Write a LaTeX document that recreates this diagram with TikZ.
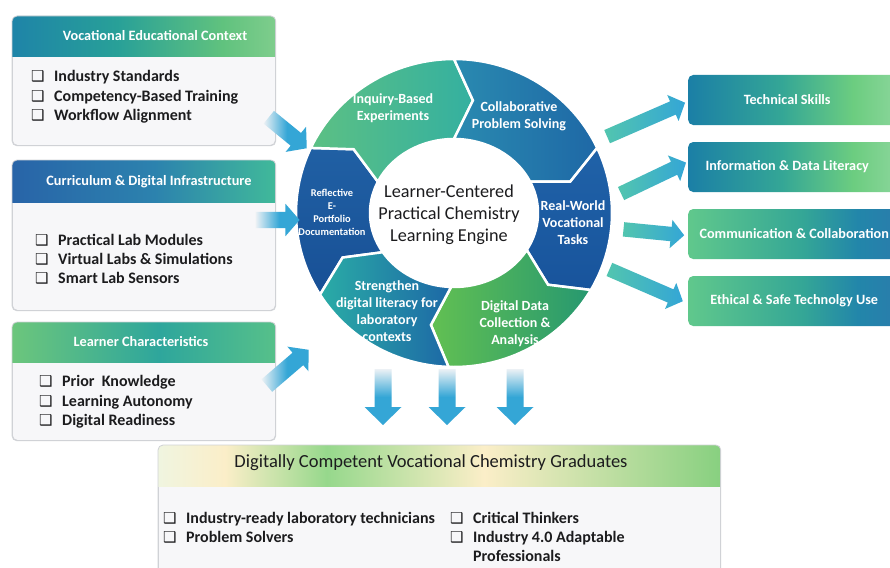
\documentclass[tikz,border=0pt]{standalone}
\usepackage{fontspec}
\setmainfont{Carlito}
\newfontfamily\symfont{DejaVu Sans}
\usetikzlibrary{shapes.arrows}

% palette
\definecolor{ink}{RGB}{28,28,30}
\definecolor{panelfill}{RGB}{247,247,249}
\definecolor{panelrule}{RGB}{208,210,214}
\definecolor{arrowblue}{RGB}{52,166,214}
\definecolor{arrowpale}{RGB}{236,241,245}
\definecolor{arrowteal}{RGB}{82,197,175}
\definecolor{deepteal}{RGB}{30,132,168}
\definecolor{midteal}{RGB}{40,160,152}
\definecolor{leafgreen}{RGB}{96,194,126}
\definecolor{palegreen}{RGB}{126,205,140}
\definecolor{royal}{RGB}{40,100,168}
\definecolor{steel}{RGB}{44,130,174}
\definecolor{seagreen}{RGB}{64,185,154}
\definecolor{mint}{RGB}{108,198,124}
\definecolor{tealmid}{RGB}{46,166,156}
\definecolor{mintright}{RGB}{86,192,138}
\definecolor{skillblue}{RGB}{27,127,166}
\definecolor{skillmid}{RGB}{52,166,150}
\definecolor{skillgreen}{RGB}{108,205,128}
\definecolor{skilllight}{RGB}{140,214,156}
\definecolor{commgreen}{RGB}{96,200,140}
\definecolor{commblue}{RGB}{34,134,170}
\definecolor{commend}{RGB}{42,124,172}
\definecolor{softcream}{RGB}{240,245,224}
\definecolor{cream}{RGB}{251,238,200}
\definecolor{lightlime}{RGB}{150,216,140}
\definecolor{lime}{RGB}{136,208,128}

% gradients
\pgfdeclarehorizontalshading{fadein}{100bp}{color(0bp)=(arrowpale); color(25bp)=(arrowpale); color(52bp)=(arrowblue); color(100bp)=(arrowblue)}
\pgfdeclareverticalshading{fadedown}{100bp}{color(0bp)=(arrowblue); color(25bp)=(arrowblue); color(50bp)=(arrowblue); color(75bp)=(arrowpale); color(100bp)=(arrowpale)}
\pgfdeclarehorizontalshading{tealtoblue}{100bp}{color(0bp)=(arrowteal); color(25bp)=(arrowteal); color(75bp)=(arrowblue); color(100bp)=(arrowblue)}
\pgfdeclarehorizontalshading{hdrcontext}{100bp}{color(0bp)=(deepteal); color(25bp)=(deepteal); color(45bp)=(midteal); color(65bp)=(leafgreen); color(75bp)=(palegreen); color(100bp)=(palegreen)}
\pgfdeclarehorizontalshading{hdrinfra}{100bp}{color(0bp)=(royal); color(25bp)=(royal); color(52bp)=(steel); color(75bp)=(seagreen); color(100bp)=(seagreen)}
\pgfdeclarehorizontalshading{hdrlearner}{100bp}{color(0bp)=(mint); color(25bp)=(mint); color(53bp)=(tealmid); color(75bp)=(mintright); color(100bp)=(mintright)}
\pgfdeclarehorizontalshading{skillup}{100bp}{color(0bp)=(skillblue); color(25bp)=(skillblue); color(47bp)=(skillmid); color(64bp)=(skillgreen); color(75bp)=(skilllight); color(100bp)=(skilllight)}
\pgfdeclarehorizontalshading{skilldown}{100bp}{color(0bp)=(commgreen); color(25bp)=(commgreen); color(52bp)=(skillmid); color(65bp)=(commblue); color(75bp)=(commend); color(100bp)=(commend)}
\pgfdeclarehorizontalshading{gradhead}{100bp}{color(0bp)=(softcream); color(25bp)=(softcream); color(31bp)=(cream); color(40bp)=(lightlime); color(54bp)=(cream); color(75bp)=(lime); color(100bp)=(lime)}

% ring geometry (outer, middle and inner radii of the cycle band)
\newcommand\Rox{158}
\newcommand\Roy{154}
\newcommand\Rmx{121}
\newcommand\Rmy{114}
\newcommand\Rix{84}
\newcommand\Riy{74}
\newcommand\tipang{9}
% one chevron piece of the cycle, running clockwise from #1 to #2
\newcommand\ringpiece[3]{%
  \path[#3] ({\Rox*cos(#1)},{\Roy*sin(#1)})
    arc[start angle=#1, end angle=#2, x radius=\Rox, y radius=\Roy]
    -- ({\Rmx*cos(#2-\tipang)},{\Rmy*sin(#2-\tipang)})
    -- ({\Rix*cos(#2)},{\Riy*sin(#2)})
    arc[start angle=#2, end angle=#1, x radius=\Rix, y radius=\Riy]
    -- ({\Rmx*cos(#1-\tipang)},{\Rmy*sin(#1-\tipang)})
    -- cycle;}
% check box glyph in front of list entries
\newcommand\cbx{\makebox[23pt][l]{\symfont\mdseries\fontsize{15}{15}\selectfont ❑}}

\begin{document}
\begin{tikzpicture}[x=1pt,y=-1pt,
  panel/.style={draw=panelrule, fill=panelfill, rounded corners=5pt, line width=0.8pt, inner sep=0pt, anchor=north west},
  hdrtext/.style={text=white, font=\bfseries\fontsize{14.3}{16}\selectfont, inner sep=0pt},
  item/.style={text=ink, font=\bfseries\fontsize{16}{18}\selectfont, anchor=west, inner sep=0pt, text height=11pt, text depth=3pt},
  seglabel/.style={text=white, font=\bfseries\fontsize{14}{17}\selectfont, align=center, inner sep=0pt},
  skillbox/.style={minimum width=212pt, minimum height=50pt, rounded corners=5pt, anchor=west, inner sep=0pt,
    text=white, font=\bfseries\fontsize{14.2}{16}\selectfont},
  flow/.style={single arrow, draw=none, inner xsep=0pt, sloped, allow upside down, midway, minimum width=0pt},
  inflow/.style={flow, shading=fadein, inner ysep=8pt, single arrow head extend=8pt, single arrow tip angle=98},
  outflow/.style={flow, shading=tealtoblue, inner ysep=7pt, single arrow head extend=7pt, single arrow tip angle=94},
  band/.style={draw=white, line width=2.5pt, line join=miter}
]
\useasboundingbox (0,0) rectangle (890,567);
\clip (0,0) rectangle (890,567);
\fill[white] (0,0) rectangle (890,567);

% ---------- input panels ----------
\node[panel, minimum width=263pt, minimum height=129pt] (ctx) at (12,16) {};
\begin{scope}
  \clip[rounded corners=5pt] (ctx.south west) rectangle (ctx.north east);
  \shade[shading=hdrcontext] (12,16) rectangle (275,57);
\end{scope}
\draw[panelrule, line width=0.8pt, rounded corners=5pt] (ctx.south west) rectangle (ctx.north east);
\node[hdrtext] (ctx-title) at (155,36) {Vocational Educational Context};
\foreach \t [count=\i] in {Industry Standards, Competency-Based Training, Workflow Alignment}
  \node[item] (ctx-\i) at (31,{58.5+19.5*\i}) {\cbx\t};

\node[panel, minimum width=263pt, minimum height=150pt] (infra) at (12,160) {};
\begin{scope}
  \clip[rounded corners=5pt] (infra.south west) rectangle (infra.north east);
  \shade[shading=hdrinfra] (12,160) rectangle (275,202);
\end{scope}
\draw[panelrule, line width=0.8pt, rounded corners=5pt] (infra.south west) rectangle (infra.north east);
\node[hdrtext] (infra-title) at (149,182) {Curriculum \& Digital Infrastructure};
\foreach \t [count=\i] in {Practical Lab Modules, Virtual Labs \& Simulations, Smart Lab Sensors}
  \node[item] (infra-\i) at (35,{222+19*\i}) {\cbx\t};

\node[panel, minimum width=263pt, minimum height=118pt] (lrn) at (12,322) {};
\begin{scope}
  \clip[rounded corners=5pt] (lrn.south west) rectangle (lrn.north east);
  \shade[shading=hdrlearner] (12,322) rectangle (275,362);
\end{scope}
\draw[panelrule, line width=0.8pt, rounded corners=5pt] (lrn.south west) rectangle (lrn.north east);
\node[hdrtext] (lrn-title) at (141,342) {Learner Characteristics};
\foreach \t [count=\i] in {Prior\ \ Knowledge, Learning Autonomy, Digital Readiness}
  \node[item] (lrn-\i) at (39,{363+19.5*\i}) {\cbx\t};

% ---------- cycle of practice ----------
\begin{scope}[shift={(454,213)}, y=1pt]
  \ringpiece{212}{155}{band, top color={rgb,255:red,32;green,96;blue,164}, bottom color={rgb,255:red,24;green,80;blue,150}}
  \ringpiece{155}{90}{band, left color={rgb,255:red,92;green,192;blue,132}, right color={rgb,255:red,52;green,176;blue,160}}
  \ringpiece{90}{25}{band, left color={rgb,255:red,42;green,138;blue,176}, right color={rgb,255:red,30;green,104;blue,166}}
  \ringpiece{25}{-30}{band, top color={rgb,255:red,32;green,98;blue,168}, bottom color={rgb,255:red,24;green,84;blue,156}}
  \ringpiece{-30}{-92}{band, left color={rgb,255:red,98;green,192;blue,82}, right color={rgb,255:red,38;green,152;blue,112}}
  \ringpiece{-92}{-148}{band, left color={rgb,255:red,42;green,172;blue,166}, right color={rgb,255:red,29;green,104;blue,166}}
\end{scope}

\node[seglabel] (seg-inquiry) at (393,108) {Inquiry-Based\\Experiments};
\node[seglabel] (seg-collab) at (519,116) {Collaborative\\Problem Solving};
\node[seglabel] (seg-real) at (573,223) {Real-World\\Vocational\\Tasks};
\node[seglabel] (seg-data) at (515,324) {Digital Data\\Collection \&\\Analysis};
\node[seglabel] (seg-lit) at (387,311) {Strengthen\\digital literacy for\\laboratory\\contexts};
\node[seglabel, font=\bfseries\fontsize{10.4}{13}\selectfont] (seg-refl) at (332,212) {Reflective\\E-\\Portfolio\\Documentation};
\node[align=center, inner sep=0pt, text=ink, font=\fontsize{18.2}{22}\selectfont] (engine) at (449,215)
  {Learner-Centered\\Practical Chemistry\\Learning Engine};

% ---------- competence outcomes ----------
\node[skillbox, shading=skillup] (tech) at (688,100) {Technical Skills\hspace*{14pt}};
\node[skillbox, shading=skillup] (info) at (688,167) {Information \& Data Literacy\hspace*{14pt}};
\node[skillbox, shading=skilldown] (comm) at (688,234) {Communication \& Collaboration};
\node[skillbox, shading=skilldown] (ethic) at (688,301) {Ethical \& Safe Technolgy Use};

% ---------- flow arrows ----------
\coordinate (in1a) at (266,115); \coordinate (in1b) at (304,146);
\coordinate (in2a) at (252,220); \coordinate (in2b) at (296,220);
\coordinate (in3a) at (264,388); \coordinate (in3b) at (306,352);
\path (in1a) -- (in1b) node[inflow, minimum height=49pt] (flow-ctx) {};
\path (in2a) -- (in2b) node[inflow, minimum height=44pt] (flow-infra) {};
\path (in3a) -- (in3b) node[inflow, minimum height=55pt] (flow-lrn) {};

\coordinate (out1a) at (604,138); \coordinate (out1b) at (682,104);
\coordinate (out2a) at (618,195); \coordinate (out2b) at (683,164);
\coordinate (out3a) at (620,229); \coordinate (out3b) at (681,235);
\coordinate (out4a) at (606,268); \coordinate (out4b) at (680,300);
\path (out1a) -- (out1b) node[outflow, minimum height=85pt] (flow-tech) {};
\path (out2a) -- (out2b) node[outflow, minimum height=72pt] (flow-info) {};
\path (out3a) -- (out3b) node[outflow, minimum height=61pt] (flow-comm) {};
\path (out4a) -- (out4b) node[outflow, minimum height=80pt] (flow-ethic) {};

% three block arrows from the cycle down to the graduate profile
\foreach \x [count=\i] in {383,447,515} {
  \coordinate (down\i) at (\x,369);
  \shade[shading=fadedown] (down\i) ++(-8.5,0) -- ++(0,38) -- ++(-10,0) -- ++(18.5,18)
    -- ++(18.5,-18) -- ++(-10,0) -- ++(0,-38) -- cycle;
}

% ---------- graduate profile ----------
\node[panel, minimum width=562pt, minimum height=140pt] (grad) at (158,445) {};
\begin{scope}
  \clip[rounded corners=5pt] (grad.south west) rectangle (grad.north east);
  \shade[shading=gradhead] (158,445) rectangle (720,486);
\end{scope}
\draw[panelrule, line width=0.8pt, rounded corners=5pt] (grad.south west) rectangle (grad.north east);
\node[inner sep=0pt, text=ink, font=\fontsize{18.5}{20}\selectfont] (grad-title) at (431,463)
  {Digitally Competent Vocational Chemistry Graduates};
\node[item] (grad-1) at (163,519) {\cbx Industry-ready laboratory technicians};
\node[item] (grad-2) at (163,538) {\cbx Problem Solvers};
\node[item] (grad-3) at (450,519) {\cbx Critical Thinkers};
\node[item] (grad-4) at (450,538) {\cbx Industry 4.0 Adaptable};
\node[item] (grad-5) at (473,557) {Professionals};
\end{tikzpicture}
\end{document}
